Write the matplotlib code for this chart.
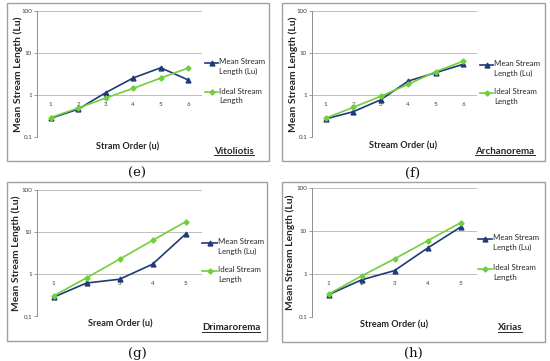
import matplotlib
matplotlib.use("Agg")
import matplotlib.pyplot as plt
from matplotlib.lines import Line2D
from matplotlib.patches import Rectangle

plt.rcParams['font.family'] = ['Lato', 'DejaVu Sans']

# ---------------- data ----------------
orders_e = [1, 2, 3, 4, 5, 6]
mean_e = [0.28, 0.46, 1.14, 2.55, 4.45, 2.28]
ideal_e = [0.29, 0.49, 0.85, 1.44, 2.54, 4.4]

orders_f = [1, 2, 3, 4, 5, 6]
mean_f = [0.27, 0.40, 0.77, 2.15, 3.4, 5.4]
ideal_f = [0.28, 0.51, 0.93, 1.8, 3.6, 6.4]

orders_g = [1, 2, 3, 4, 5]
mean_g = [0.28, 0.61, 0.75, 1.71, 8.9]
ideal_g = [0.30, 0.81, 2.25, 6.3, 17.5]

orders_h = [1, 2, 3, 4, 5]
mean_h = [0.33, 0.73, 1.2, 4.0, 12.3]
ideal_h = [0.34, 0.9, 2.25, 5.9, 15.5]

ytick_values = [0.1, 1, 10, 100]
yticks_dot = ['0.1', '1', '10', '100']
yticks_comma = ['0,1', '1', '10', '100']

names = ['Vitoliotis', 'Archanorema', 'Drimarorema', 'Xirias']
xlabels = ['Stram Order (u)', 'Stream Order (u)', 'Sream Order (u)', 'Stream Order (u)']
ylabel = 'Mean Stream Length (Lu)'
panel_tags = ['(e)', '(f)', '(g)', '(h)']
legend_labels = ['Mean Stream\nLength (Lu)', 'Ideal Stream\nLength']

NAVY = '#1f3a78'
GREEN = '#72cf3c'
GRID = '#bdbdbd'

W, H = 550, 361
fig = plt.figure(figsize=(W / 100, H / 100), dpi=100)
fig.patch.set_facecolor('white')

def fx(x):
    return x / W

def fy(y):
    return 1 - y / H

# layout (pixel coords)
panels = [
    dict(orders=orders_e, mean=mean_e, ideal=ideal_e, yt=yticks_dot,
         ax=(37, 11, 202, 137), border=(7, 3, 269, 161),
         ylab_x=18, xlab=(128, 147), name=(234, 151), tag=(137, 173),
         leg=(205, 218, 63, 92)),
    dict(orders=orders_f, mean=mean_f, ideal=ideal_f, yt=yticks_dot,
         ax=(312, 11, 477, 137), border=(282, 3, 545, 161),
         ylab_x=293, xlab=(403, 146), name=(505, 151), tag=(413, 173),
         leg=(480, 493, 65, 93)),
    dict(orders=orders_g, mean=mean_g, ideal=ideal_g, yt=yticks_comma,
         ax=(37, 190, 202, 316), border=(7, 182, 267, 341),
         ylab_x=16, xlab=(120, 324), name=(231, 328), tag=(137, 353),
         leg=(202, 217, 243, 271)),
    dict(orders=orders_h, mean=mean_h, ideal=ideal_h, yt=yticks_dot,
         ax=(312, 188, 477, 317), border=(282, 182, 545, 342),
         ylab_x=290, xlab=(394, 325), name=(510, 328), tag=(413, 353),
         leg=(478, 492, 239, 269)),
]

renderer = fig.canvas.get_renderer()

for i, p in enumerate(panels):
    # border
    bl, bt, br, bb = p['border']
    fig.add_artist(Rectangle((fx(bl), fy(bb)), fx(br - bl), (bb - bt) / H,
                             transform=fig.transFigure, fill=False,
                             edgecolor='#a0a0a0', linewidth=1.0))
    l, t, r, b = p['ax']
    ax = fig.add_axes([fx(l), fy(b), fx(r - l), (b - t) / H])
    ax.set_facecolor('none')
    n = len(p['orders'])
    ax.plot(p['orders'], p['mean'], color=NAVY, lw=1.2, marker='^', ms=3.5,
            zorder=3)
    ax.plot(p['orders'], p['ideal'], color=GREEN, lw=1.2, marker='D', ms=2.6,
            zorder=4)
    ax.set_yscale('log')
    ax.set_ylim(0.1, 100)
    ax.set_xlim(0.5, n + 0.5)
    ax.set_yticks(ytick_values)
    ax.set_yticklabels(p['yt'])
    ax.yaxis.set_minor_locator(matplotlib.ticker.NullLocator())
    ax.tick_params(axis='y', labelsize=4.5, length=2, width=0.6,
                   color='#8c8c8c', labelcolor='#404040', pad=1.5)
    ax.grid(axis='y', color=GRID, lw=0.7)
    ax.set_axisbelow(True)
    for s in ['top', 'right']:
        ax.spines[s].set_visible(False)
    ax.spines['left'].set_color('#8c8c8c')
    ax.spines['left'].set_linewidth(0.7)
    ax.spines['bottom'].set_position(('data', 1))
    ax.spines['bottom'].set_visible(False)
    ax.set_xticks(p['orders'])
    ax.set_xticklabels([str(o) for o in p['orders']])
    ax.tick_params(axis='x', labelsize=4.5, length=0, labelcolor='#404040',
                   pad=5)
    # axis titles
    fig.text(fx(p['ylab_x']), fy((t + b) / 2), ylabel, rotation=90,
             ha='center', va='center', fontsize=7.4, fontweight='bold',
             color='#262626')
    fig.text(fx(p['xlab'][0]), fy(p['xlab'][1]), xlabels[i], ha='center',
             va='center', fontsize=6.6, fontweight='bold', color='#262626')
    # name label, underlined
    nt = fig.text(fx(p['name'][0]), fy(p['name'][1]), names[i], ha='center',
                  va='center', fontsize=7.0, fontweight='bold', color='#262626')
    bb_ = nt.get_window_extent(renderer=renderer)
    uy = bb_.y0 + 0.3
    fig.add_artist(Line2D([bb_.x0 / fig.dpi / fig.get_figwidth(),
                           bb_.x1 / fig.dpi / fig.get_figwidth()],
                          [uy / fig.dpi / fig.get_figheight()] * 2,
                          transform=fig.transFigure, color='#262626', lw=0.7))
    # panel tag
    fig.text(fx(p['tag'][0]), fy(p['tag'][1]), panel_tags[i], ha='center',
             va='center', fontsize=9.5, family='DejaVu Serif', color='#111111')
    # legend (manual)
    x0, x1, y1, y2 = p['leg']
    for yy, col, mk, ms, lab in [(y1, NAVY, '^', 3.5, legend_labels[0]),
                                 (y2, GREEN, 'D', 2.6, legend_labels[1])]:
        fig.add_artist(Line2D([fx(x0), fx(x1)], [fy(yy)] * 2,
                              transform=fig.transFigure, color=col, lw=1.2))
        fig.add_artist(Line2D([fx((x0 + x1) / 2)], [fy(yy)],
                              transform=fig.transFigure, color=col,
                              marker=mk, ms=ms, lw=0))
        fig.text(fx(x1 + 1), fy(yy - 4.5), lab, ha='left', va='top',
                 fontsize=5.7, color='#262626', linespacing=1.45)

fig.savefig('out.png', dpi=100, facecolor='white')
